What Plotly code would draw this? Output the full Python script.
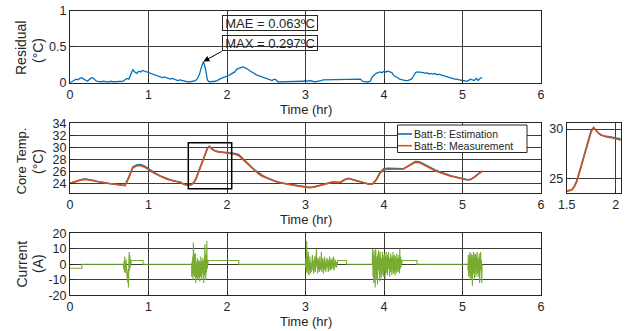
import plotly.graph_objects as go

FONT = "Liberation Sans, Arial, sans-serif"
BLUE = "#0072BD"
ORANGE = "#D95319"
GREEN = "#77AC30"
GRID = "#3c3c3c"
TXT = "#262626"

# ---------------- data ----------------
# residual (°C) sampled every 0.025 hr
res_t = [round(0.025 * i, 3) for i in range(211)]
res_v = [
    0.00, 0.01, 0.03, 0.05, 0.04, 0.06, 0.07, 0.05, 0.03, 0.02,
    0.05, 0.07, 0.06, 0.03, 0.02, 0.01, 0.01, 0.02, 0.01, 0.01,
    0.01, 0.02, 0.01, 0.01, 0.01, 0.02, 0.01, 0.02, 0.04, 0.06,
    0.05, 0.12, 0.18, 0.15, 0.13, 0.16, 0.15, 0.17, 0.16, 0.15,
    0.14, 0.12, 0.11, 0.10, 0.09, 0.09, 0.08, 0.07, 0.08, 0.07,
    0.06, 0.05, 0.06, 0.05, 0.04, 0.03, 0.04, 0.03, 0.02, 0.02,
    0.01, 0.01, 0.02, 0.02, 0.03, 0.06, 0.12, 0.22, 0.297, 0.20,
    0.04, 0.01, 0.01, 0.02, 0.02, 0.03, 0.05, 0.06, 0.07, 0.08,
    0.08, 0.10, 0.12, 0.14, 0.15, 0.19, 0.20, 0.21, 0.22, 0.21,
    0.20, 0.18, 0.16, 0.14, 0.13, 0.11, 0.10, 0.09, 0.08, 0.08,
    0.07, 0.06, 0.04, 0.03, 0.05, 0.04, 0.01, 0.01, 0.02, 0.01,
    0.01, 0.02, 0.01, 0.01, 0.02, 0.01, 0.01, 0.02, 0.01, 0.02,
    0.03, 0.02, 0.03, 0.02, 0.02, 0.01, 0.02, 0.02, 0.03, 0.04,
    0.04, 0.04, 0.05, 0.04, 0.04, 0.05, 0.04, 0.04, 0.04, 0.04,
    0.05, 0.04, 0.04, 0.05, 0.04, 0.04, 0.05, 0.04, 0.05, 0.02,
    0.01, 0.01, 0.01, 0.02, 0.08, 0.11, 0.13, 0.14, 0.15, 0.14,
    0.16, 0.15, 0.16, 0.15, 0.14, 0.10, 0.09, 0.07, 0.05, 0.04,
    0.04, 0.03, 0.03, 0.04, 0.05, 0.09, 0.14, 0.15, 0.15, 0.14,
    0.14, 0.13, 0.14, 0.12, 0.13, 0.12, 0.13, 0.11, 0.12, 0.11,
    0.10, 0.09, 0.08, 0.08, 0.07, 0.06, 0.05, 0.05, 0.04, 0.04,
    0.03, 0.03, 0.02, 0.03, 0.05, 0.04, 0.03, 0.06, 0.03, 0.06,
    0.07,
]

# core temperature (°C)
temp_t = ([round(0.05 * i, 3) for i in range(31)]
          + [round(1.5 + 0.025 * i, 3) for i in range(1, 17)]
          + [round(1.95 + 0.05 * i, 3) for i in range(67)])
temp_meas = [
    24.0, 24.2, 24.45, 24.62, 24.67, 24.6, 24.45, 24.3, 24.15, 24.05,
    23.97, 23.9, 23.8, 23.68, 23.62, 25.0, 26.6, 26.9, 26.98, 26.7,
    26.25, 25.85, 25.5, 25.15, 24.9, 24.65, 24.45, 24.3, 24.2, 23.85,
    23.7,
    23.72, 23.8, 24.1, 24.6, 25.4, 26.25, 27.1, 27.9, 28.9, 29.75, 30.13, 29.8, 29.55, 29.38, 29.28, 29.22,
    29.13,
    29.05, 28.95, 28.85, 28.6, 28.0, 27.3, 26.7, 26.05, 25.6, 25.2,
    24.9, 24.6, 24.38, 24.2, 24.05, 23.92, 23.82, 23.7, 23.58, 23.45,
    23.35, 23.3, 23.38, 23.5, 23.7, 23.85, 24.05, 24.2, 24.15, 24.2,
    24.6, 24.8, 24.6, 24.4, 24.2, 24.05, 23.9, 23.85, 24.5, 25.7,
    26.3, 26.35, 26.35, 26.3, 26.3, 26.4, 26.8, 27.2, 27.5, 27.45,
    27.1, 26.75, 26.4, 26.1, 25.85, 25.6, 25.4, 25.2, 25.05, 24.9,
    24.75, 24.6, 24.6, 25.0, 25.55, 26.0,
]
temp_est = [
    24.02, 24.22, 24.48, 24.66, 24.72, 24.64, 24.47, 24.31, 24.16, 24.06,
    23.98, 23.91, 23.81, 23.7, 23.66, 25.05, 26.72, 27.05, 27.12, 26.86,
    26.39, 25.96, 25.59, 25.23, 24.97, 24.7, 24.5, 24.34, 24.22, 23.87,
    23.71,
    23.73, 23.82, 24.13, 24.66, 25.5, 26.4, 27.35, 28.2, 29.12, 29.85, 30.15, 29.82, 29.57, 29.4, 29.3, 29.25,
    29.18,
    29.12, 29.05, 28.98, 28.78, 28.2, 27.52, 26.9, 26.24, 25.74, 25.32,
    24.99, 24.67, 24.43, 24.24, 24.06, 23.93, 23.83, 23.71, 23.59, 23.46,
    23.37, 23.32, 23.41, 23.53, 23.73, 23.89, 24.09, 24.24, 24.19, 24.24,
    24.65, 24.84, 24.64, 24.44, 24.25, 24.08, 23.91, 23.86, 24.58, 25.84,
    26.45, 26.51, 26.5, 26.42, 26.36, 26.44, 26.83, 27.25, 27.63, 27.6,
    27.24, 26.88, 26.53, 26.22, 25.96, 25.69, 25.48, 25.26, 25.1, 24.94,
    24.78, 24.63, 24.64, 25.04, 25.6, 26.06,
]

# current (A): segment boundaries (hr) and the values read inside each segment
cur_seg_t = [0.0, 0.15, 0.68, 0.78, 0.93, 1.55, 1.76, 2.15, 3.0, 3.41, 3.52, 3.85, 4.23, 4.42, 5.07, 5.25]
burst1 = [0, -3, 2, -5, 5, -6, 1, -4, 3, -7, -2, -9, -5, -12, -3, -15, 2, 8, -4, 6, -2, 3, 0, 2.5]
burst2 = [-8, 2, -6, 5, -10, 14, -4, 3, -8, 6, -5, 7, -12, 2, -9, 0, -7, 4, -10, 1, -6, 3, -9, 2, -11,
          -1, -8, 5, -7, 0, -10, 2, -6, 4, -9, 1, -12, 3, -7, 13, -8, 2, -10, 6, -5, 15, -3, 8, 0, 2.5]
burst3 = [-2, 4, -5, 15, -6, 3, -4, 8, -7, 2, -3, 5, -6, 1, -5, 4, -2, 6, -4, 3, -6, 2, -3, 5, -5, 1,
          -4, 10, -2, 3, -6, 4, -3, 2, -5, 5, -4, 1, -3, 8, -5, 3, -2, 4, -6, 2, -3, 5, -4, 1, -5, 3,
          -2, 4, -3, 2, -5, 3, -4, 5, -2, 1, -4, 3, -3, 4, -2, 2, -3, 5, -4, 1, -2, 3, -1, 2, -2, 1, 0, 2.5]
burst4 = [-3, 10, -8, 6, -12, 9, -5, 4, -15, 10, -6, 8, -10, 5, -13, 7, -4, 9, -8, 6, -11, 8, -5, 7,
          -9, 4, -7, 8, -6, 5, -8, 6, -4, 7, -9, 5, -6, 8, -5, 4, -7, 6, -3, 8, -6, 5, -8, 4, -5, 7,
          -4, 6, -7, 5, -3, 8, -6, 4, -5, 6, -7, 5, -4, 3, -6, 7, -3, 5, -5, 4, -4, 6, -6, 10, -3, 5,
          -2, 3, 0, 2.5]
burst5 = [-4, 6, -8, 7, -5, 8, -10, 5, -6, 7, -9, 6, -14, 5, -7, 8, -6, 4, -9, 7, -5, 6, -8, 5, -7,
          8, -6, 4, -8, 6, -5, 7, -12, 5, -6, 8, -4, 3, -12, 0]
cur_seg_v = [[-2.5, -2.5], [0, 0], burst1, [2.5, 2.5], [0, 0], burst2, [2.5, 2.5], [0, 0],
             burst3, [2.5, 2.5], [0, 0], burst4, [2.5, 2.5], [0, 0], burst5]

x_ticks = [0, 1, 2, 3, 4, 5, 6]
res_ticks = [0, 0.5, 1]
temp_ticks = [24, 26, 28, 30, 32, 34]
cur_ticks = [-20, -10, 0, 10, 20]
cur_ticktext = ["-20", "-10", "0", "10", "20"]
inset_xticks = [1.5, 2]
inset_yticks = [25, 30]
series_names = ["Batt-B: Estimation", "Batt-B: Measurement"]
mae_text = "MAE = 0.063ºC"
max_text = "MAX = 0.297ºC"

cur_t, cur_v = [], []
for k, vals in enumerate(cur_seg_v):
    t0, t1 = cur_seg_t[k], cur_seg_t[k + 1]
    n = len(vals)
    for j, v in enumerate(vals):
        cur_t.append(t0 + (t1 - t0) * j / (n - 1))
        cur_v.append(v)

# ---------------- figure ----------------
W, H = 630, 331
def px(x):
    return x / W
def py(y):
    return (H - y) / H

fig = go.Figure()
fig.add_trace(go.Scatter(x=res_t, y=res_v, mode="lines", line=dict(color=BLUE, width=1.3),
                         xaxis="x", yaxis="y", showlegend=False))
fig.add_trace(go.Scatter(x=temp_t, y=temp_est, mode="lines", line=dict(color=BLUE, width=1.6),
                         xaxis="x2", yaxis="y2", name=series_names[0], showlegend=False))
fig.add_trace(go.Scatter(x=temp_t, y=temp_meas, mode="lines", line=dict(color=ORANGE, width=1.6),
                         xaxis="x2", yaxis="y2", name=series_names[1], showlegend=False))
fig.add_trace(go.Scatter(x=temp_t, y=temp_est, mode="lines", line=dict(color=BLUE, width=1.6),
                         xaxis="x3", yaxis="y3", showlegend=False))
fig.add_trace(go.Scatter(x=temp_t, y=temp_meas, mode="lines", line=dict(color=ORANGE, width=1.6),
                         xaxis="x3", yaxis="y3", showlegend=False))
fig.add_trace(go.Scatter(x=cur_t, y=cur_v, mode="lines", line=dict(color=GREEN, width=1.1),
                         xaxis="x4", yaxis="y4", showlegend=False))

tickfont = dict(family=FONT, size=12.5, color=TXT)
def ax(domain, anchor, rng, tv, tt=None):
    d = dict(domain=domain, anchor=anchor, range=rng, tickvals=tv, showgrid=True, gridcolor=GRID,
             gridwidth=1, showline=True, linecolor=TXT, linewidth=1, mirror=True, automargin=False,
             ticks="inside", ticklen=4, tickcolor=TXT, tickfont=tickfont, zeroline=False)
    if tt is not None:
        d["ticktext"] = tt
    return d

mainx = [px(70), px(541)]
fig.update_layout(
    width=W, height=H, margin=dict(l=0, r=0, t=0, b=0, autoexpand=False),
    plot_bgcolor="white", paper_bgcolor="white", showlegend=False,
    font=dict(family=FONT, size=13, color=TXT),
    xaxis=ax(mainx, "y", [0, 6], x_ticks),
    yaxis=ax([py(82.7), py(11)], "x", [0, 1], res_ticks),
    xaxis2=ax(mainx, "y2", [0, 6], x_ticks),
    yaxis2=ax([py(192.7), py(123.3)], "x2", [22.45, 34], temp_ticks),
    xaxis3=ax([px(566.7), px(620.7)], "y3", [1.5, 2.05], inset_xticks),
    yaxis3=ax([py(192.7), py(122.7)], "x3", [23.54, 30.64], inset_yticks),
    xaxis4=ax(mainx, "y4", [0, 6], x_ticks),
    yaxis4=ax([py(295.3), py(233.3)], "x4", [-20, 20], cur_ticks, cur_ticktext),
)

shapes = []
# zoom box on the main temperature panel
shapes.append(dict(type="rect", xref="x2", yref="y2", x0=1.507, x1=2.06, y0=23.1, y1=30.77,
                   line=dict(color="black", width=1.5)))
# legend box (drawn manually to match the compact MATLAB legend)
shapes.append(dict(type="rect", xref="paper", yref="paper", x0=px(397.5), x1=px(527), y0=py(152.5), y1=py(125),
                   line=dict(color=TXT, width=1), fillcolor="white", layer="above"))
ann = []
for yrow, col, name in [(134, BLUE, series_names[0]), (145.7, ORANGE, series_names[1])]:
    shapes.append(dict(type="line", xref="paper", yref="paper", x0=px(398), x1=px(412), y0=py(yrow), y1=py(yrow),
                       line=dict(color=col, width=1.6), layer="above"))
    ann.append(dict(xref="paper", yref="paper", x=px(412.3), y=py(yrow), text=name, showarrow=False,
                    xanchor="left", yanchor="middle", font=dict(family=FONT, size=10.5, color=TXT)))

for yc, l1, s1, yc2, l2 in [(47.5, "Residual", 14, 51, "(°C)"),
                            (161, "Core Temp.", 13, 162, "(°C)"),
                            (264, "Current", 14, 264, "(A)")]:
    ann.append(dict(xref="paper", yref="paper", x=px(21.5), y=py(yc), text=l1, textangle=-90,
                    showarrow=False, xanchor="center", yanchor="middle",
                    font=dict(family=FONT, size=s1, color=TXT)))
    ann.append(dict(xref="paper", yref="paper", x=px(38), y=py(yc2), text=l2, textangle=-90,
                    showarrow=False, xanchor="center", yanchor="middle",
                    font=dict(family=FONT, size=14, color=TXT)))
for yc in [109.5, 219.5, 321]:
    ann.append(dict(xref="paper", yref="paper", x=px(305.5), y=py(yc), text="Time (hr)",
                    showarrow=False, xanchor="center", yanchor="middle",
                    font=dict(family=FONT, size=13, color=TXT)))
for yv, txt in [(0.835, mae_text), (0.547, max_text)]:
    ann.append(dict(xref="x", yref="y", x=2.552, y=yv, text=txt, showarrow=False,
                    xanchor="center", yanchor="middle", width=94, height=14,
                    bordercolor=TXT, borderwidth=1, borderpad=0,
                    font=dict(family=FONT, size=13, color=TXT)))
ann.append(dict(xref="x", yref="y", x=1.70, y=0.297, axref="x", ayref="y", ax=1.952, ay=0.448,
                text="", showarrow=True, arrowhead=2, arrowsize=1.2, arrowwidth=1, arrowcolor="black"))
fig.update_layout(annotations=ann, shapes=shapes)

fig.write_html("out.html")
